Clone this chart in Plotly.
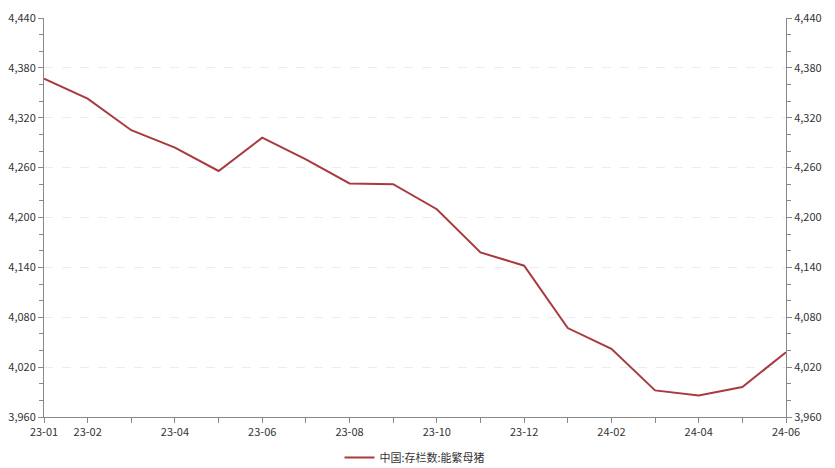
import plotly.graph_objects as go

months = ["23-01", "23-02", "23-03", "23-04", "23-05", "23-06", "23-07", "23-08", "23-09",
          "23-10", "23-11", "23-12", "24-01", "24-02", "24-03", "24-04", "24-05", "24-06"]
values = [4367, 4343, 4305, 4284, 4256, 4296, 4270, 4241, 4240,
          4210, 4158, 4142, 4067, 4042, 3992, 3986, 3996, 4038]
labeled = ["23-01", "23-02", "23-04", "23-06", "23-08", "23-10", "23-12", "24-02", "24-04", "24-06"]
series_name = "中国:存栏数:能繁母猪"
y_ticks = [3960, 4020, 4080, 4140, 4200, 4260, 4320, 4380, 4440]

line_color = "#a93a3f"
font_family = "Noto Sans CJK SC, Noto Sans, sans-serif"
tick_font = dict(family=font_family, size=11, color="#333333")

fig = go.Figure()
fig.add_trace(go.Scatter(x=months, y=values, mode="lines", name=series_name,
                         line=dict(color=line_color, width=2)))
fig.add_trace(go.Scatter(x=months, y=values, mode="lines", yaxis="y2", showlegend=False,
                         line=dict(color="rgba(0,0,0,0)", width=0), hoverinfo="skip"))

ticktext = [m if m in labeled else "" for m in months]

yax = dict(range=[3960, 4440], tickvals=y_ticks, ticktext=[f"{v:,}" for v in y_ticks],
           ticks="outside", ticklen=5, tickcolor="#888888", showline=True, linecolor="#888888",
           linewidth=1, tickfont=tick_font, zeroline=False, automargin=False,
           minor=dict(dtick=20, tick0=3960, ticks="outside", ticklen=4, tickcolor="#888888", showgrid=False))

fig.update_layout(
    width=835, height=468,
    margin=dict(l=44, r=49, t=18, b=51, autoexpand=False),
    plot_bgcolor="white", paper_bgcolor="white",
    font=dict(family=font_family),
    xaxis=dict(type="category", range=[0, len(months) - 1], tickvals=months, ticktext=ticktext,
               ticks="outside", ticklen=5, tickcolor="#888888", showline=True, linecolor="#888888",
               linewidth=1, tickfont=tick_font, showgrid=False, automargin=False),
    yaxis=dict(**yax, showgrid=True, gridcolor="#ececec", griddash="dash", gridwidth=1),
    yaxis2=dict(**yax, overlaying="y", side="right", showgrid=False),
    legend=dict(orientation="h", x=0.5, xanchor="center", y=-0.065, yanchor="top",
                font=dict(family=font_family, size=11, color="#333333"), itemwidth=30),
    showlegend=True,
)

fig.write_html("out.html", config={"displayModeBar": False},
               post_script="document.body.style.margin='0';document.body.style.overflow='hidden';")
